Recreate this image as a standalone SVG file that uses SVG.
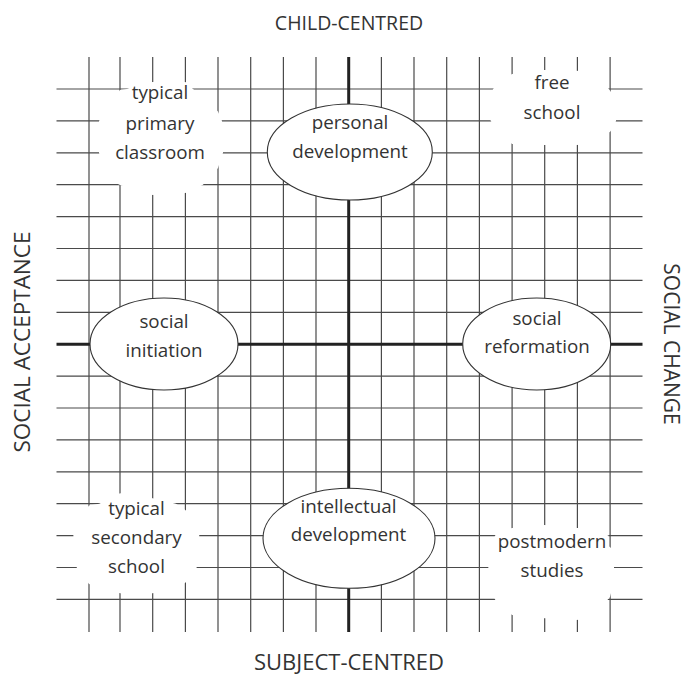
<svg xmlns="http://www.w3.org/2000/svg" width="688" height="677" viewBox="0 0 688 677">
<style>
.grid{fill:none;stroke:#4a4a4a;stroke-width:1.2}
.axis{fill:none;stroke:#222;stroke-width:3}
.blank{fill:#fff;stroke:none}
.node ellipse{fill:#fff;stroke:#333;stroke-width:1.1}
text{font-family:"Open Sans","Noto Sans","DejaVu Sans",sans-serif;fill:#333;text-anchor:middle}
.lbl{font-size:18.8px}
.ax{font-size:21px}
</style>
<rect width="688" height="677" fill="#fff"/>
<g id="grid">
<path class="grid" d="M56.5 89H642.5M56.5 120.9H642.5M56.5 152.8H642.5M56.5 184.7H642.5M56.5 216.6H642.5M56.5 248.5H642.5M56.5 280.4H642.5M56.5 312.3H642.5M56.5 376.1H642.5M56.5 408H642.5M56.5 439.9H642.5M56.5 471.8H642.5M56.5 503.7H642.5M56.5 535.6H642.5M56.5 567.5H642.5M56.5 599.4H642.5"/>
<path class="grid" d="M89 57V632M120 57V632M152.7 57V632M185.4 57V632M218 57V632M250.7 57V632M283.4 57V632M316 57V632M381.4 57V632M414 57V632M446.7 57V632M479.4 57V632M512.1 57V632M544.7 57V632M577.4 57V632M610.1 57V632"/>
<path class="axis" d="M348.7 57V632M56.5 344.2H642.5"/>
<polygon class="blank" points="120,90 127,89 140,83.5 152.7,82 185.4,82 193,89 205,100 218,111.5 222,120.9 223,152.8 218,168 203,184.7 185.4,193 152.7,195 135,190 120,185 118,184 104,170 99,152.8 99,120.9 112,100"/>
<polygon class="blank" points="493,89 503,79 512.1,74 544.7,70 577.4,70.7 598,79 608,88 611,92 616,105 616,120.9 613,128 610.1,131.7 600,138 577.4,145 544.7,145 512.1,144 500,134 490.7,120.9 490,105"/>
<polygon class="blank" points="89,505.5 99.3,503.7 120,493.3 152.7,498.3 176,503.7 185.4,510 195,522 199.3,535.6 196.7,567.5 185.4,582.7 170,590 152.7,593.3 120,593.3 89,584 76.7,567.5 73.3,535.6 80,518"/>
<polygon class="blank" points="495,535.6 503,530 512.1,528 544.7,525 577.4,528 595,531 608.5,535.6 608.5,546 611,548 614,556 614,567.5 613,585 610.1,596.7 607,600.5 590,612 577.4,620 544.7,618.3 512.1,615 503,608 495,599.4 490,584 488.3,567.5 491,550"/>
</g>
<g id="personal-development" class="node">
<ellipse cx="349.8" cy="152" rx="82.5" ry="48"/>
<text class="lbl" x="350" y="129">personal</text>
<text class="lbl" x="350" y="157.5">development</text>
</g>
<g id="social-initiation" class="node">
<ellipse cx="164" cy="344" rx="74" ry="46"/>
<text class="lbl" x="164" y="328">social</text>
<text class="lbl" x="164" y="356.5">initiation</text>
</g>
<g id="social-reformation" class="node">
<ellipse cx="536.7" cy="344" rx="74" ry="46"/>
<text class="lbl" x="537" y="325">social</text>
<text class="lbl" x="537" y="353">reformation</text>
</g>
<g id="intellectual-development" class="node">
<ellipse cx="349" cy="538.3" rx="86" ry="50"/>
<text class="lbl" x="348.5" y="512.5">intellectual</text>
<text class="lbl" x="348.5" y="540.5">development</text>
</g>
<g id="typical-primary-classroom">
<text class="lbl" x="160" y="99">typical</text>
<text class="lbl" x="160" y="129.5">primary</text>
<text class="lbl" x="160" y="158.5">classroom</text>
</g>
<g id="free-school">
<text class="lbl" x="552" y="88.5">free</text>
<text class="lbl" x="552" y="118.5">school</text>
</g>
<g id="typical-secondary-school">
<text class="lbl" x="136.5" y="515">typical</text>
<text class="lbl" x="136.5" y="543.5">secondary</text>
<text class="lbl" x="136.5" y="573">school</text>
</g>
<g id="postmodern-studies">
<text class="lbl" x="552" y="547.5">postmodern</text>
<text class="lbl" x="552" y="576.5">studies</text>
</g>
<g id="axis-labels">
<text class="ax" x="349" y="30" style="font-size:19.5px">CHILD-CENTRED</text>
<text class="ax" x="349" y="670" style="font-size:22px">SUBJECT-CENTRED</text>
<text class="ax" transform="translate(30 342) rotate(-90)" style="font-size:22.5px">SOCIAL ACCEPTANCE</text>
<text class="ax" transform="translate(664 344) rotate(90)">SOCIAL CHANGE</text>
</g>
</svg>
